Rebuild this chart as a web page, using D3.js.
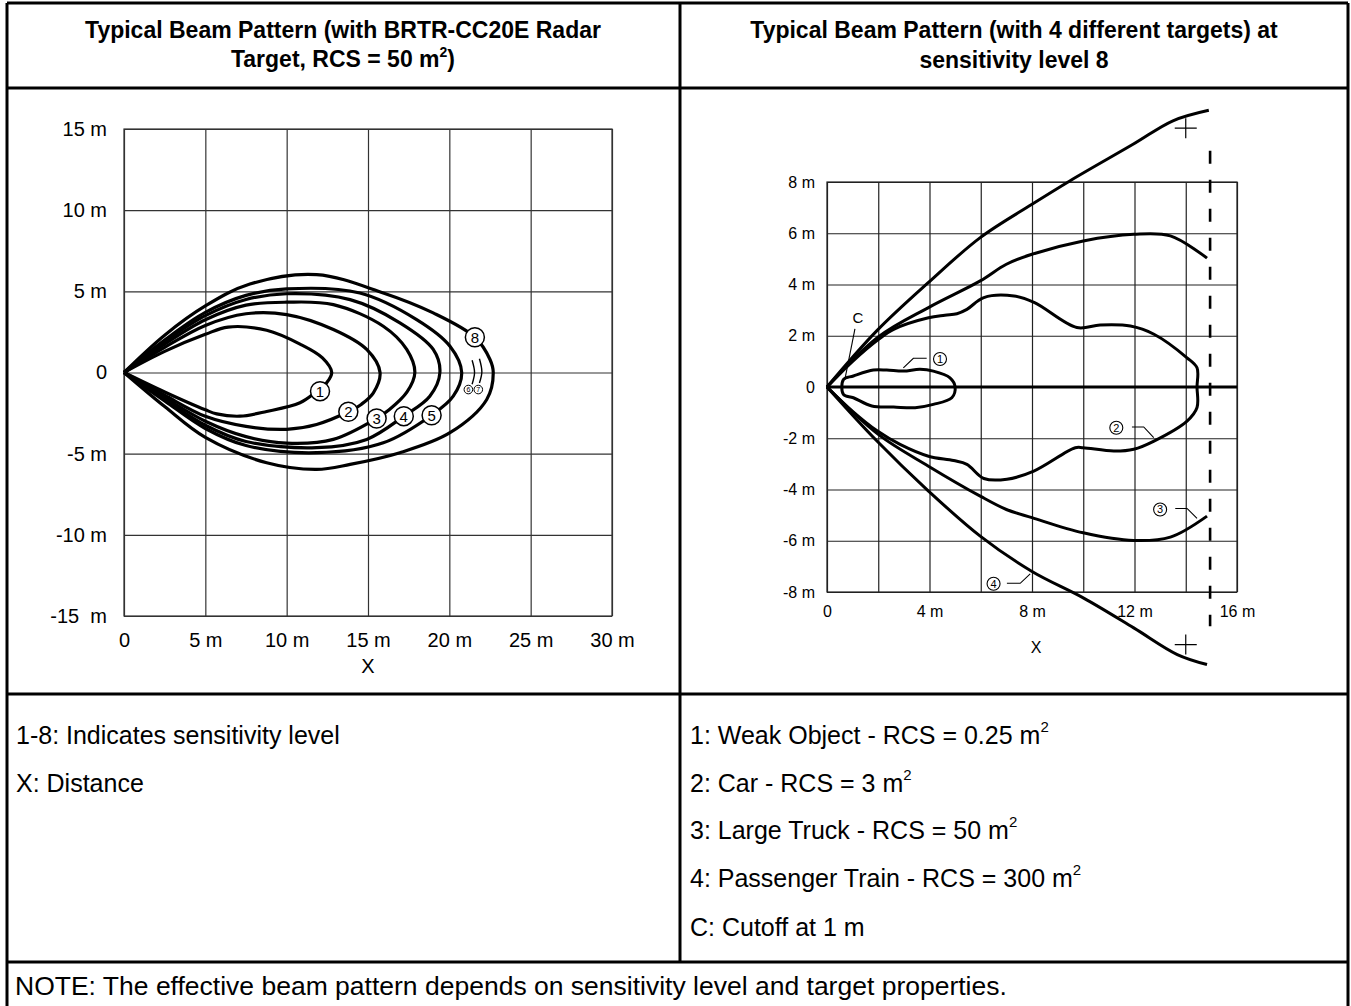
<!DOCTYPE html>
<html>
<head>
<meta charset="utf-8">
<script src="https://cdn.jsdelivr.net/npm/d3@7"></script>
<style>
body { margin: 0; background: #fff; }
text { font-family: "Liberation Sans", Arial, sans-serif; fill: #000; }
</style>
</head>
<body>
<div id="chart"></div>
<script>
var svgWidth = 1351;
var svgHeight = 1006;

// left chart: beam lobes per sensitivity level (x, y in m)
var level1 = [[0,0],[2.5,1.3],[5,2.35],[6.4,2.8],[8.77,2.6],[10.82,1.75],[12.2,0.9],[12.77,0],[12.46,-0.63],[11.8,-1.2],[10.82,-1.86],[8.77,-2.4],[7.13,-2.69],[5.7,-2.55],[5,-2.3],[2.5,-1.2],[0,0]];
var level2 = [[0,0],[2.5,1.55],[5,2.9],[7.5,3.62],[10,3.57],[12.87,2.65],[14.92,1.42],[15.74,0],[15.33,-1.25],[14.6,-1.95],[13.79,-2.42],[11.84,-3.2],[10,-3.5],[7.5,-3.32],[5,-2.7],[2.5,-1.4],[0,0]];
var level3 = [[0,0],[2.5,1.75],[5,3.25],[7.5,4.15],[10,4.33],[12.87,4.18],[15.94,2.85],[17.38,1.42],[17.88,0],[17.4,-1.2],[16.3,-2.3],[15.53,-2.83],[12.87,-4.12],[10,-4.35],[7.5,-3.95],[5,-3.0],[2.5,-1.55],[0,0]];
var level4 = [[0,0],[2.5,1.9],[5,3.5],[7.5,4.5],[10,4.85],[13.9,4.49],[16.96,3.06],[19.01,1.42],[19.42,0],[18.8,-1.46],[17.2,-2.69],[14.92,-4.12],[11.84,-4.63],[7.5,-4.25],[5,-3.25],[2.5,-1.65],[0,0]];
var level5 = [[0,0],[2.5,2.0],[5,3.7],[7.5,4.75],[10,5.15],[14.5,4.9],[17.99,3.26],[20.04,1.62],[20.76,0],[20.24,-1.46],[18.91,-2.63],[15.94,-4.33],[11.84,-4.94],[7.5,-4.5],[5,-3.45],[2.5,-1.75],[0,0]];
var level8 = [[0,0],[2.5,2.3],[5,4.1],[7.74,5.45],[11.84,6.03],[15.94,4.9],[19.01,3.67],[21.57,2.17],[22.5,0.8],[22.7,0],[22.3,-1.66],[20.04,-3.71],[16.96,-4.94],[13.9,-5.66],[11.84,-5.97],[8.77,-5.56],[5,-4.0],[2.5,-2.1],[0,0]];
var level6Tip = [[21.4,0.75],[21.55,0],[21.4,-0.72]];
var level7Tip = [[21.85,0.85],[22.0,0.05],[21.85,-0.65]];

var levelNames = ["1","2","3","4","5","8"];
var levelLabelPos = [[12.05,-1.15],[13.79,-2.42],[15.53,-2.83],[17.2,-2.69],[18.91,-2.63],[21.57,2.17]];
var tipNames = ["6","7"];
var tipLabelPos = [[21.17,-1.05],[21.78,-1.05]];

var leftXTicks = [0,5,10,15,20,25,30];
var leftXLabels = ["0","5 m","10 m","15 m","20 m","25 m","30 m"];
var leftYTicks = [-15,-10,-5,0,5,10,15];
var leftYLabels = ["-15  m","-10 m","-5 m","0","5 m","10 m","15 m"];

// right chart: four targets at level 8
var weakObject = [[0.64,0.29],[1.03,0.43],[1.81,0.66],[2.33,0.66],[2.98,0.62],[3.63,0.69],[4.15,0.62],[4.8,0.36],[5.0,0],[4.87,-0.42],[4.15,-0.68],[3.44,-0.81],[2.6,-0.78],[1.75,-0.74],[1.03,-0.42],[0.64,-0.29]];
var car = [[0,0],[1,1.0],[2,1.85],[2.6,2.25],[3.96,2.7],[4.6,2.8],[5.07,2.86],[5.46,3.03],[6.12,3.49],[7.3,3.55],[8.1,3.29],[9.75,2.32],[10.66,2.42],[11.84,2.38],[12.76,2.06],[14.05,1.14],[14.44,0.75],[14.44,0],[14.44,-0.8],[14.05,-1.33],[12.76,-2.11],[11.97,-2.43],[11.19,-2.5],[10.0,-2.37],[9.69,-2.37],[8.07,-3.28],[7.02,-3.6],[6.12,-3.57],[5.46,-3.02],[4.94,-2.87],[3.96,-2.7],[2.85,-2.24],[1.94,-1.7],[1,-0.95],[0,0]];
var truckTop = [[0,0],[2,1.95],[3.96,3.1],[5.98,4.14],[7.0,4.79],[8.0,5.18],[10.0,5.7],[11.97,5.96],[13.4,5.9],[14.83,5.03]];
var truckBottom = [[0,0],[2,-1.85],[3.96,-3.09],[5.98,-4.26],[7.0,-4.78],[8.0,-5.1],[10,-5.69],[11.97,-5.99],[13.4,-5.86],[14.83,-5.04]];
var trainTop = [[0,0],[1.94,2.19],[3.95,4.07],[5.98,5.83],[8.0,7.13],[9.49,8.05],[11.96,9.48],[13.5,10.39],[14.9,10.8]];
var trainBottom = [[0,0],[1.94,-2.1],[3.96,-4.06],[5.98,-5.82],[8.0,-7.2],[10,-8.23],[11.97,-9.4],[13.67,-10.44],[14.83,-10.83]];

var targetNames = ["1","2","3","4"];
var targetLabelPos = [[4.41,1.09],[11.29,-1.59],[13.0,-4.78],[6.5,-7.68]];
var targetLeaders = [
    [[3.89,1.12],[3.37,1.12],[2.98,0.75]],
    [[11.9,-1.56],[12.36,-1.56],[12.75,-1.98]],
    [[13.59,-4.74],[14.05,-4.74],[14.44,-5.13]],
    [[7.02,-7.66],[7.54,-7.66],[7.93,-7.29]]
];
var cutoffLabelPos = [1.21,2.7];
var cutoffLeader = [[1.09,2.27],[0.7,0.31]];
var rangeLine = [[14.95,9.22],[14.95,-9.34]];
var crossPts = [[14,10.1],[14,-10.05]];

var rightXTicks = [0,4,8,12,16];
var rightXLabels = ["0","4 m","8 m","12 m","16 m"];
var rightGrid = [-8,-6,-4,-2,0,2,4,6,8];
var rightGridX = [0,2,4,6,8,10,12,14,16];
var rightYLabels = ["-8 m","-6 m","-4 m","-2 m","0","2 m","4 m","6 m","8 m"];

var legendLeft = ["1-8: Indicates sensitivity level", "X: Distance"];
var legendRight = [
    ["1: Weak Object - RCS = 0.25 m", "2"],
    ["2: Car - RCS = 3 m", "2"],
    ["3: Large Truck - RCS = 50 m", "2"],
    ["4: Passenger Train - RCS = 300 m", "2"],
    ["C: Cutoff at 1 m", ""]
];
var noteText = "NOTE: The effective beam pattern depends on sensitivity level and target properties.";

var svg = d3.select("#chart")
    .append("svg")
    .attr("width", svgWidth)
    .attr("height", svgHeight);

// table frame
var frameL = 7, frameR = 1348, frameT = 3, colX = 680;
var rowY = [88, 694, 962];
var frame = svg.append("g").attr("stroke", "#000").attr("stroke-width", 3);
frame.append("line").attr("x1", frameL).attr("x2", frameL).attr("y1", frameT).attr("y2", svgHeight);
frame.append("line").attr("x1", frameR).attr("x2", frameR).attr("y1", frameT).attr("y2", svgHeight);
frame.append("line").attr("x1", frameL).attr("x2", frameR).attr("y1", frameT).attr("y2", frameT);
rowY.forEach(function(y) {
    frame.append("line").attr("x1", frameL).attr("x2", frameR).attr("y1", y).attr("y2", y);
});
frame.append("line").attr("x1", colX).attr("x2", colX).attr("y1", frameT).attr("y2", rowY[2]);

// titles
function title(x, y, txt, sup, tail) {
    var t = svg.append("text").attr("x", x).attr("y", y)
        .attr("text-anchor", "middle").attr("font-size", 23).attr("font-weight", "bold");
    t.append("tspan").text(txt);
    if (sup) {
        t.append("tspan").attr("font-size", 14).attr("dy", -10).text(sup);
        t.append("tspan").attr("dy", 10).text(tail);
    }
}
title(343, 38, "Typical Beam Pattern (with BRTR-CC20E Radar");
title(343, 67, "Target, RCS = 50 m", "2", ")");
title(1014, 38, "Typical Beam Pattern (with 4 different targets) at");
title(1014, 68, "sensitivity level 8");

// ---------- left chart ----------
var xL = d3.scaleLinear().domain([0, 30]).range([124, 612]);
var yL = d3.scaleLinear().domain([-15, 15]).range([616, 129]);
var leftG = svg.append("g");

leftG.append("g")
    .attr("transform", "translate(0,616)")
    .call(d3.axisBottom(xL).tickValues(leftXTicks).tickSize(-(616 - 129)).tickPadding(17)
        .tickFormat(function(d, i) { return leftXLabels[i]; }))
    .call(function(g) { g.select(".domain").remove(); });

leftG.append("g")
    .attr("transform", "translate(124,0)")
    .call(d3.axisLeft(yL).tickValues(leftYTicks).tickSize(-(612 - 124)).tickPadding(17)
        .tickFormat(function(d, i) { return leftYLabels[i]; }))
    .call(function(g) { g.select(".domain").remove(); });

leftG.selectAll(".tick line").attr("stroke", "#333").attr("stroke-width", 1.2);
leftG.selectAll(".tick text").attr("font-size", 20).attr("font-family", "Liberation Sans, Arial, sans-serif")
    .style("white-space", "pre").attr("fill", "#000");

leftG.append("rect")
    .attr("x", xL(0)).attr("y", yL(15))
    .attr("width", xL(30) - xL(0)).attr("height", yL(-15) - yL(15))
    .attr("fill", "none").attr("stroke", "#333").attr("stroke-width", 1.2);

leftG.append("text").attr("x", 368).attr("y", 673)
    .attr("text-anchor", "middle").attr("font-size", 20).text("X");

var lineL = d3.line().x(d => xL(d[0])).y(d => yL(d[1])).curve(d3.curveCatmullRom.alpha(0.5));

var levels = [level1, level2, level3, level4, level5, level8];
leftG.selectAll(".lobe")
    .data(levels)
    .enter()
    .append("path")
    .attr("class", "lobe")
    .attr("d", lineL)
    .attr("fill", "none")
    .attr("stroke", "#000")
    .attr("stroke-width", 3.2)
    .attr("stroke-linejoin", "round");

leftG.selectAll(".tip")
    .data([level6Tip, level7Tip])
    .enter()
    .append("path")
    .attr("d", lineL)
    .attr("fill", "none")
    .attr("stroke", "#000")
    .attr("stroke-width", 1.4);

levelLabelPos.forEach(function(p, i) {
    leftG.append("circle").attr("cx", xL(p[0])).attr("cy", yL(p[1])).attr("r", 9.5)
        .attr("fill", "#fff").attr("stroke", "#000").attr("stroke-width", 1.5);
    leftG.append("text").attr("x", xL(p[0])).attr("y", yL(p[1])).attr("dy", "0.36em")
        .attr("text-anchor", "middle").attr("font-size", 15).text(levelNames[i]);
});
tipLabelPos.forEach(function(p, i) {
    leftG.append("circle").attr("cx", xL(p[0])).attr("cy", yL(p[1])).attr("r", 4.3)
        .attr("fill", "#fff").attr("stroke", "#000").attr("stroke-width", 1);
    leftG.append("text").attr("x", xL(p[0])).attr("y", yL(p[1])).attr("dy", "0.36em")
        .attr("text-anchor", "middle").attr("font-size", 7).text(tipNames[i]);
});

// ---------- right chart ----------
var xR = d3.scaleLinear().domain([0, 16]).range([827, 1237]);
var yR = d3.scaleLinear().domain([-8, 8]).range([592, 182]);
var rightG = svg.append("g");

rightG.append("g")
    .attr("transform", "translate(0,592)")
    .call(d3.axisBottom(xR).tickValues(rightGridX).tickSize(-(592 - 182)).tickFormat(""))
    .call(function(g) { g.select(".domain").remove(); });

rightG.append("g")
    .attr("transform", "translate(827,0)")
    .call(d3.axisLeft(yR).tickValues(rightGrid).tickSize(-(1237 - 827)).tickPadding(12)
        .tickFormat(function(d, i) { return rightYLabels[i]; }))
    .call(function(g) { g.select(".domain").remove(); });

rightG.append("g")
    .attr("transform", "translate(0,592)")
    .call(d3.axisBottom(xR).tickValues(rightXTicks).tickSize(0).tickPadding(14)
        .tickFormat(function(d, i) { return rightXLabels[i]; }))
    .call(function(g) { g.select(".domain").remove(); });

rightG.selectAll(".tick line").attr("stroke", "#222").attr("stroke-width", 1.2);
rightG.selectAll(".tick text").attr("font-size", 16).attr("font-family", "Liberation Sans, Arial, sans-serif")
    .attr("fill", "#000");

rightG.append("rect")
    .attr("x", xR(0)).attr("y", yR(8))
    .attr("width", xR(16) - xR(0)).attr("height", yR(-8) - yR(8))
    .attr("fill", "none").attr("stroke", "#222").attr("stroke-width", 1.2);

rightG.append("line")
    .attr("x1", xR(0)).attr("x2", xR(16)).attr("y1", yR(0)).attr("y2", yR(0))
    .attr("stroke", "#000").attr("stroke-width", 3);

rightG.append("text").attr("x", 1036).attr("y", 653)
    .attr("text-anchor", "middle").attr("font-size", 16).text("X");

var lineR = d3.line().x(d => xR(d[0])).y(d => yR(d[1])).curve(d3.curveCatmullRom.alpha(0.5));

rightG.selectAll(".target")
    .data([car, truckTop, truckBottom, trainTop, trainBottom])
    .enter()
    .append("path")
    .attr("d", lineR)
    .attr("fill", "none")
    .attr("stroke", "#000")
    .attr("stroke-width", 3)
    .attr("stroke-linejoin", "round");

rightG.append("path")
    .attr("d", d3.line().x(d => xR(d[0])).y(d => yR(d[1])).curve(d3.curveCatmullRomClosed.alpha(0.5))(weakObject))
    .attr("fill", "none").attr("stroke", "#000").attr("stroke-width", 3);

// range limit and crosses
rightG.append("path")
    .attr("d", d3.line().x(d => xR(d[0])).y(d => yR(d[1]))(rangeLine))
    .attr("stroke", "#000").attr("stroke-width", 2.6).attr("stroke-dasharray", "13,16");

crossPts.forEach(function(p) {
    var cx = xR(p[0]), cy = yR(p[1]);
    rightG.append("path")
        .attr("d", "M" + (cx - 11) + "," + cy + "H" + (cx + 11) + "M" + cx + "," + (cy - 10) + "V" + (cy + 10))
        .attr("stroke", "#000").attr("stroke-width", 1.2);
});

var leaderLine = d3.line().x(d => xR(d[0])).y(d => yR(d[1]));
targetLeaders.forEach(function(pts) {
    rightG.append("path").attr("d", leaderLine(pts))
        .attr("fill", "none").attr("stroke", "#000").attr("stroke-width", 1.1);
});
rightG.append("path").attr("d", leaderLine(cutoffLeader))
    .attr("fill", "none").attr("stroke", "#000").attr("stroke-width", 1.1);

targetLabelPos.forEach(function(p, i) {
    rightG.append("circle").attr("cx", xR(p[0])).attr("cy", yR(p[1])).attr("r", 6.5)
        .attr("fill", "#fff").attr("stroke", "#000").attr("stroke-width", 1.1);
    rightG.append("text").attr("x", xR(p[0])).attr("y", yR(p[1])).attr("dy", "0.36em")
        .attr("text-anchor", "middle").attr("font-size", 11).text(targetNames[i]);
});
rightG.append("text").attr("x", xR(cutoffLabelPos[0])).attr("y", yR(cutoffLabelPos[1])).attr("dy", "0.36em")
    .attr("text-anchor", "middle").attr("font-size", 15).text("C");

// ---------- legend rows ----------
var legendY = [744, 792, 839, 887, 936];
legendLeft.forEach(function(s, i) {
    svg.append("text").attr("x", 16).attr("y", legendY[i]).attr("font-size", 25).text(s);
});
legendRight.forEach(function(s, i) {
    var t = svg.append("text").attr("x", 690).attr("y", legendY[i]).attr("font-size", 25);
    t.append("tspan").text(s[0]);
    if (s[1]) t.append("tspan").attr("font-size", 15).attr("dy", -12).text(s[1]);
});

svg.append("text").attr("x", 15).attr("y", 995).attr("font-size", 26.5).text(noteText);
</script>
</body>
</html>
